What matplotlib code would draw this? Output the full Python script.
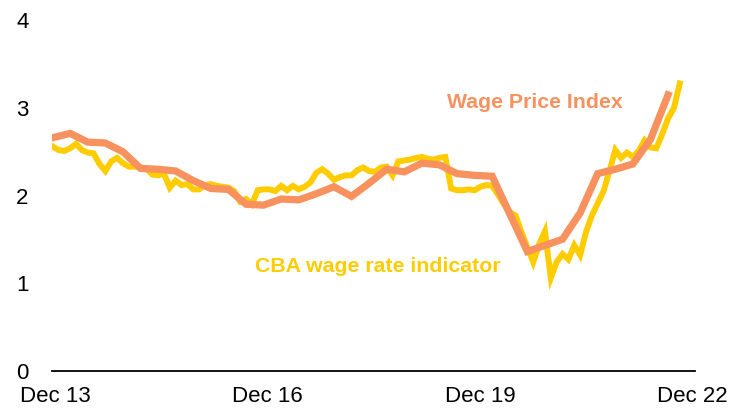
import matplotlib
matplotlib.use("Agg")
import matplotlib.pyplot as plt
import numpy as np

plt.rcParams['font.family'] = ['Liberation Sans', 'DejaVu Sans']

# CBA wage rate indicator, monthly from Dec 13 (month index 0)
cba = [2.56, 2.52, 2.51, 2.54, 2.59, 2.52, 2.49, 2.48, 2.36, 2.28,
       2.39, 2.43, 2.37, 2.33, 2.33, 2.32, 2.31, 2.24, 2.23, 2.25,
       2.09, 2.17, 2.12, 2.13, 2.07, 2.07, 2.12, 2.13, 2.11, 2.10,
       2.09, 2.05, 1.93, 1.96, 1.90, 2.06, 2.07, 2.07, 2.05, 2.11,
       2.06, 2.11, 2.07, 2.10, 2.15, 2.26, 2.30, 2.25, 2.18, 2.21,
       2.23, 2.23, 2.29, 2.32, 2.28, 2.27, 2.32, 2.33, 2.23, 2.39,
       2.40, 2.41, 2.43, 2.44, 2.42, 2.41, 2.43, 2.44, 2.08, 2.06,
       2.06, 2.07, 2.06, 2.10, 2.12, 2.11, 2.01, 1.90, 1.81, 1.77,
       1.58, 1.41, 1.24, 1.44, 1.59, 1.06, 1.24, 1.33, 1.27, 1.43,
       1.32, 1.58, 1.77, 1.91, 2.05, 2.28, 2.52, 2.43, 2.49, 2.44,
       2.51, 2.63, 2.55, 2.54, 2.70, 2.88, 3.00, 3.28]

# Wage Price Index, quarterly from Dec 13 to Sep 22
wpi = [2.66, 2.71, 2.61, 2.60, 2.50, 2.31, 2.30, 2.28, 2.17, 2.08,
       2.07, 1.90, 1.89, 1.96, 1.95, 2.02, 2.10, 1.99, 2.14, 2.30,
       2.27, 2.37, 2.35, 2.25, 2.23, 2.22, 1.79, 1.36, 1.43, 1.50,
       1.80, 2.25, 2.30, 2.36, 2.64, 3.15]

tick_months = [0, 36, 72, 108]
tick_labels = ['Dec 13', 'Dec 16', 'Dec 19', 'Dec 22']

yellow = '#FFCC00'
orange = '#F7925E'

fig = plt.figure(figsize=(7.34, 4.11), dpi=100)
ax = fig.add_axes([52 / 734, 40.5 / 411, 643 / 734, 350 / 411])

ax.plot(np.arange(len(cba)), cba, color=yellow, lw=4.3, solid_joinstyle='miter')
ax.plot(np.arange(len(wpi)) * 3, wpi, color=orange, lw=5.2, solid_joinstyle='miter')

ax.set_xlim(-0.1, 109.6)
ax.set_ylim(0, 4)
ax.set_yticks([0, 1, 2, 3, 4])
ax.set_xticks(np.array(tick_months) + [0.4, 0.6, 0.9, 1.1])
ax.set_xticklabels(tick_labels)

for s in ['top', 'right', 'left']:
    ax.spines[s].set_visible(False)
ax.spines['bottom'].set_linewidth(1.3)
ax.tick_params(axis='both', length=0, labelsize=16)
ax.tick_params(axis='y', pad=17)
ax.tick_params(axis='x', pad=11)

ax.text(82.3, 3.0, 'Wage Price Index', color=orange, fontsize=15.3,
        fontweight='bold', ha='center', va='baseline')
ax.text(55.5, 1.125, 'CBA wage rate indicator', color=yellow, fontsize=15.3,
        fontweight='bold', ha='center', va='baseline')

fig.savefig('out.png', dpi=100)
